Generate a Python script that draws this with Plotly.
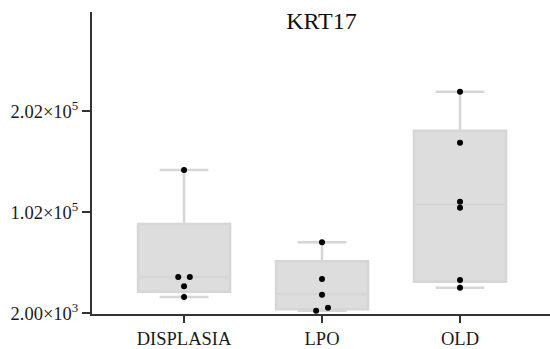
import plotly.graph_objects as go

# ---- data ----
categories = ["DISPLASIA", "LPO", "OLD"]
q1 = [23540, 6150, 33420]
median = [38060, 21270, 109500]
q3 = [90430, 53570, 182600]
lowerfence = [18300, 4770, 27490]
upperfence = [143800, 72350, 221140]

pt_group = [0, 0, 0, 0, 0,
            1, 1, 1, 1, 1,
            2, 2, 2, 2, 2, 2]
pt_value = [143800, 38060, 38060, 28870, 18300,
            72350, 36090, 20570, 7730, 4770,
            221140, 170750, 112460, 106530, 35100, 27490]
pt_dodge = [0, -0.042, 0.042, 0, 0,
            0, 0, 0, 0.043, -0.043,
            0, 0, 0, 0, 0, 0]

tick_vals = [2000, 102000, 202000]
tick_text = ["2.00×10<sup>3</sup>", "1.02×10<sup>5</sup>", "2.02×10<sup>5</sup>"]

FONT = "Liberation Serif"
pos = list(range(len(categories)))

fig = go.Figure()
fig.add_trace(go.Box(
    x=pos, q1=q1, median=median, q3=q3,
    lowerfence=lowerfence, upperfence=upperfence,
    fillcolor="#dddddd",
    line=dict(color="#d6d6d6", width=2.5),
    whiskerwidth=0.53,
    width=0.667,
    boxpoints=False,
    hoverinfo="skip",
    showlegend=False,
))
fig.add_trace(go.Scatter(
    x=[g + d for g, d in zip(pt_group, pt_dodge)],
    y=pt_value,
    mode="markers",
    marker=dict(color="black", size=6),
    showlegend=False,
))

fig.update_layout(
    width=550, height=349,
    margin=dict(l=92, r=0, t=12, b=35),
    paper_bgcolor="white", plot_bgcolor="white",
    font=dict(family=FONT, size=18.5, color="#1a1a1a"),
    title=dict(text="KRT17", x=0.5845, xanchor="center",
               y=1 - 21 / 349, yanchor="middle", yref="container",
               font=dict(family=FONT, size=24, color="#111111")),
    showlegend=False,
)
fig.update_xaxes(
    range=[-0.667, 2.652],
    tickvals=pos, ticktext=categories,
    showline=True, linecolor="#333333", linewidth=2,
    ticks="outside", ticklen=7, tickcolor="#333333", tickwidth=1.5,
    showgrid=False, zeroline=False,
    tickfont=dict(family=FONT, size=18.5, color="#1a1a1a"),
)
fig.update_yaxes(
    range=[1500, 300000],
    tickvals=tick_vals, ticktext=tick_text,
    showline=True, linecolor="#333333", linewidth=2,
    ticks="outside", ticklen=8, tickcolor="#333333", tickwidth=1.5,
    showgrid=False, zeroline=False,
    tickfont=dict(family=FONT, size=18.5, color="#1a1a1a"),
)

fig.write_html("out.html")
